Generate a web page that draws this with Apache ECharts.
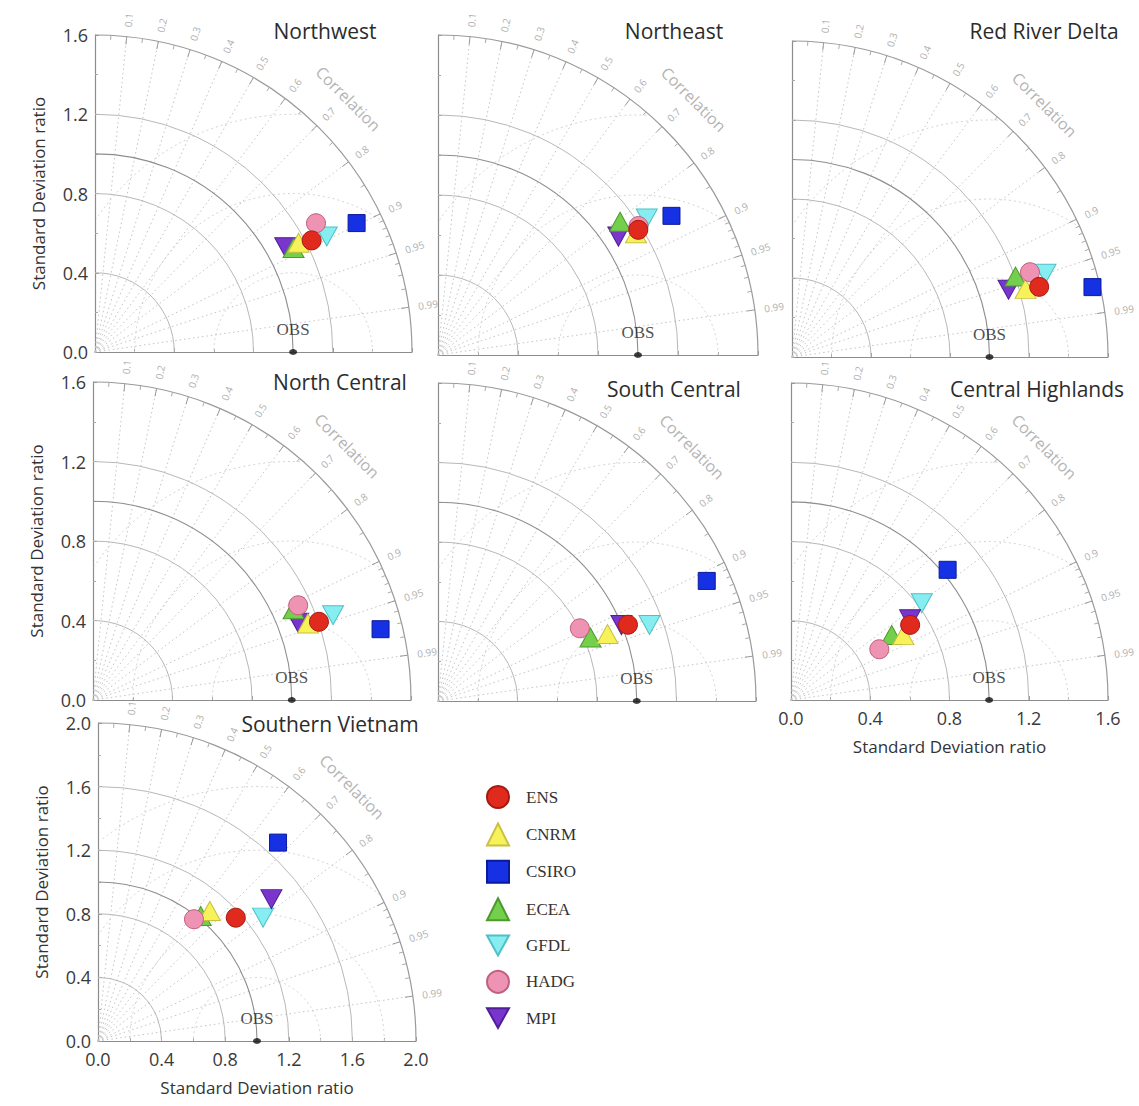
<!DOCTYPE html>
<html>
<head>
<meta charset="utf-8">
<script src="https://cdn.jsdelivr.net/npm/echarts@6/dist/echarts.min.js"></script>
<style>
  html, body { margin: 0; padding: 0; background: #ffffff; }
  #chart { width: 1139px; height: 1106px; }
</style>
</head>
<body>
<div id="chart"></div>
<script>
// Models, in legend order
const models = ['ENS', 'CNRM', 'CSIRO', 'ECEA', 'GFDL', 'HADG', 'MPI'];
const regions = ['Northwest', 'Northeast', 'Red River Delta', 'North Central',
                 'South Central', 'Central Highlands', 'Southern Vietnam'];

// Standard deviation ratio (model / observed) and correlation, columns follow `models`
const northwestStd   = [1.230, 1.166, 1.472, 1.131, 1.307, 1.291, 1.096];
const northwestCorr  = [0.889, 0.881, 0.897, 0.886, 0.895, 0.864, 0.876];
const northeastStd   = [1.181, 1.162, 1.359, 1.128, 1.247, 1.192, 1.079];
const northeastCorr  = [0.848, 0.852, 0.859, 0.807, 0.837, 0.841, 0.836];
const redRiverStd    = [1.301, 1.232, 1.562, 1.203, 1.351, 1.279, 1.148];
const redRiverCorr   = [0.962, 0.960, 0.974, 0.941, 0.950, 0.942, 0.955];
const northCentStd   = [1.203, 1.148, 1.490, 1.108, 1.281, 1.137, 1.103];
const northCentCorr  = [0.945, 0.942, 0.971, 0.911, 0.943, 0.908, 0.936];
const southCentStd   = [1.030, 0.917, 1.481, 0.831, 1.131, 0.802, 0.999];
const southCentCorr  = [0.928, 0.930, 0.913, 0.923, 0.941, 0.890, 0.924];
const highlandsStd   = [0.711, 0.655, 1.028, 0.605, 0.821, 0.514, 0.726];
const highlandsCorr  = [0.846, 0.866, 0.769, 0.840, 0.804, 0.867, 0.828];
const southernStd    = [1.163, 1.079, 1.685, 1.017, 1.296, 0.975, 1.409];
const southernCorr   = [0.745, 0.652, 0.672, 0.635, 0.801, 0.619, 0.774];

// Observed reference: standard deviation ratio 1, perfect correlation
const obsStd = 1.0;

// Correlation grid lines, labels and arc ticks
const corrLines = [0.1, 0.2, 0.3, 0.4, 0.5, 0.6, 0.7, 0.8, 0.9, 0.95, 0.99];
const corrMinor = [0.05, 0.15, 0.25, 0.35, 0.45, 0.55, 0.65, 0.75, 0.85,
                   0.91, 0.92, 0.93, 0.94, 0.96, 0.97, 0.98];

const regionStd  = [northwestStd, northeastStd, redRiverStd, northCentStd, southCentStd, highlandsStd, southernStd];
const regionCorr = [northwestCorr, northeastCorr, redRiverCorr, northCentCorr, southCentCorr, highlandsCorr, southernCorr];

// Panel placement: origin pixel, radius in px, axis max, which axes carry labels
const panels = [
  { ox: 95,  oy: 352,  R: 317, max: 1.6, yLab: true,  xLab: false, title: [325, 31] },
  { ox: 438, oy: 355,  R: 320, max: 1.6, yLab: false, xLab: false, title: [674, 31] },
  { ox: 792, oy: 357,  R: 316, max: 1.6, yLab: false, xLab: false, title: [1044, 31] },
  { ox: 93,  oy: 700,  R: 318, max: 1.6, yLab: true,  xLab: false, title: [340, 382] },
  { ox: 438, oy: 701,  R: 318, max: 1.6, yLab: false, xLab: false, title: [674, 389] },
  { ox: 791, oy: 700,  R: 317, max: 1.6, yLab: false, xLab: true,  title: [1037, 389] },
  { ox: 98,  oy: 1041, R: 318, max: 2.0, yLab: true,  xLab: true,  title: [330, 724] }
];

const markerStyles = {
  ENS:   { symbol: 'circle',   size: 19,       color: '#e02a1e', border: '#a8180f' },
  CNRM:  { symbol: 'triangle', size: [21, 19], color: '#f7f25a', border: '#c9c040' },
  CSIRO: { symbol: 'rect',     size: 17,       color: '#1531e3', border: '#0b1a9c' },
  ECEA:  { symbol: 'triangle', size: [21, 19], color: '#74cf4c', border: '#4c9a2e' },
  GFDL:  { symbol: 'path://M0,0 L20,0 L10,18 Z', size: [21, 19], color: '#86eef0', border: '#4fbfc8' },
  HADG:  { symbol: 'circle',   size: 19,       color: '#ee93b3', border: '#c0607c' },
  MPI:   { symbol: 'path://M0,0 L20,0 L10,18 Z', size: [21, 19], color: '#7a35cc', border: '#4e1f98' }
};
// Drawing order so the ensemble sits on top
const drawOrder = ['CSIRO', 'GFDL', 'MPI', 'ECEA', 'CNRM', 'HADG', 'ENS'];

const sansFont = '"Open Sans", "Noto Sans", sans-serif';
const serifFont = '"Liberation Serif", "DejaVu Serif", serif';

// Polar grid of one Taylor diagram, drawn through the panel's axes
function taylorGrid(max) {
  const sdArcs = [];
  for (let s = 0.4; s < max - 1e-6; s += 0.4) sdArcs.push(+s.toFixed(1));
  const rmsArcs = sdArcs.slice();
  return function (params, api) {
    const P = (x, y) => api.coord([x, y]);
    const polar = (r, t) => P(r * Math.cos(t), r * Math.sin(t));
    const o = P(0, 0);
    const k = api.size([1, 0])[0];
    const ch = [];
    const arc = (r, stroke, width, dash) => ({
      type: 'arc',
      shape: { cx: o[0], cy: o[1], r: r * k, startAngle: -Math.PI / 2, endAngle: 0, clockwise: true },
      style: { stroke: stroke, fill: 'none', lineWidth: width, lineDash: dash || null }
    });
    // centred RMS difference circles around the reference point
    rmsArcs.forEach(g => {
      const pts = [];
      for (let i = 0; i <= 180; i++) {
        const a = Math.PI * i / 180;
        const x = obsStd + g * Math.cos(a), y = g * Math.sin(a);
        if (x >= 0 && x * x + y * y <= max * max) pts.push(P(x, y));
      }
      if (pts.length > 1) ch.push({ type: 'polyline', shape: { points: pts },
        style: { stroke: '#d4d4d4', fill: 'none', lineWidth: 1, lineDash: [2, 3] } });
    });
    // correlation rays
    corrLines.forEach(c => {
      const t = Math.acos(c);
      const e = polar(max, t);
      ch.push({ type: 'line', shape: { x1: o[0], y1: o[1], x2: e[0], y2: e[1] },
        style: { stroke: '#c4c4c4', lineWidth: 1, lineDash: [1.5, 3] } });
    });
    // standard deviation arcs
    sdArcs.forEach(s => ch.push(arc(s, '#b8b8b8', 1)));
    ch.push(arc(obsStd, '#8e8e8e', 1.1));
    ch.push(arc(max, '#9a9a9a', 1.2));
    // ticks on the outer arc
    corrLines.forEach(c => {
      const t = Math.acos(c);
      const a = polar(max, t), b = polar(max * 0.975, t);
      ch.push({ type: 'line', shape: { x1: a[0], y1: a[1], x2: b[0], y2: b[1] },
        style: { stroke: '#9a9a9a', lineWidth: 1 } });
    });
    corrMinor.forEach(c => {
      const t = Math.acos(c);
      const a = polar(max, t), b = polar(max * 0.986, t);
      ch.push({ type: 'line', shape: { x1: a[0], y1: a[1], x2: b[0], y2: b[1] },
        style: { stroke: '#aaaaaa', lineWidth: 1 } });
    });
    // correlation labels
    corrLines.forEach(c => {
      const t = Math.acos(c);
      const p = polar(max * 1.03, t);
      ch.push({ type: 'text', x: p[0], y: p[1], rotation: t,
        style: { text: String(c), fill: '#b0b0b0', font: '10px ' + sansFont,
                 align: 'left', verticalAlign: 'middle' } });
    });
    const cp = polar(max * 1.13, Math.PI / 4);
    ch.push({ type: 'text', x: cp[0], y: cp[1], rotation: -Math.PI / 4,
      style: { text: 'Correlation', fill: '#b4b4b4', font: '16px ' + sansFont,
               align: 'center', verticalAlign: 'middle' } });
    return { type: 'group', children: ch };
  };
}

const grid = [], xAxis = [], yAxis = [], series = [], graphic = [];

panels.forEach((p, i) => {
  grid.push({ left: p.ox, top: p.oy - p.R, width: p.R, height: p.R });
  const axisBase = {
    gridIndex: i, type: 'value', min: 0, max: p.max, interval: 0.4,
    splitLine: { show: false },
    axisLine: { show: true, lineStyle: { color: '#8c8c8c', width: 1.2 } },
    axisTick: { show: true, inside: true, length: 4, lineStyle: { color: '#999999' } },
    minorTick: { show: true, splitNumber: 2, length: 3, lineStyle: { color: '#aaaaaa' } },
    nameLocation: 'middle',
    nameTextStyle: { fontFamily: sansFont, fontSize: 17, color: '#333333' }
  };
  xAxis.push(Object.assign({}, axisBase, {
    axisLabel: { show: p.xLab, fontFamily: sansFont, fontSize: 18, color: '#3a3a3a', margin: 9,
                 formatter: v => v.toFixed(1) },
    name: p.xLab ? 'Standard Deviation ratio' : '', nameGap: 38
  }));
  yAxis.push(Object.assign({}, axisBase, {
    axisLabel: { show: p.yLab, fontFamily: sansFont, fontSize: 18, color: '#3a3a3a', margin: 7,
                 formatter: v => v.toFixed(1) },
    name: p.yLab ? 'Standard Deviation ratio' : '', nameGap: 48
  }));

  series.push({
    type: 'custom', xAxisIndex: i, yAxisIndex: i, silent: true, clip: false, z: 1,
    data: [[0, 0]], renderItem: taylorGrid(p.max)
  });

  series.push({
    name: 'OBS', type: 'scatter', xAxisIndex: i, yAxisIndex: i, z: 3, silent: true,
    symbol: 'circle', symbolSize: [8, 6], itemStyle: { color: '#111111' },
    data: [[obsStd, 0]],
    label: { show: true, formatter: 'OBS', position: 'top', distance: 11,
             fontFamily: serifFont, fontSize: 17, color: '#222222' }
  });

  drawOrder.forEach(m => {
    const j = models.indexOf(m);
    const s = regionStd[i][j], c = regionCorr[i][j];
    const st = markerStyles[m];
    series.push({
      name: m, type: 'scatter', xAxisIndex: i, yAxisIndex: i, z: 5,
      symbol: st.symbol, symbolSize: st.size,
      itemStyle: { color: st.color, borderColor: st.border, borderWidth: 1, opacity: 1 },
      data: [[s * c, s * Math.sqrt(1 - c * c)]]
    });
  });

  graphic.push({
    type: 'text', x: p.title[0], y: p.title[1],
    style: { text: regions[i], font: '21px ' + sansFont, fill: '#2c2c2c',
             align: 'center', verticalAlign: 'middle' }
  });
});

const chart = echarts.init(document.getElementById('chart'), null, { renderer: 'svg' });
chart.setOption({
  backgroundColor: '#ffffff',
  animation: false,
  grid: grid,
  xAxis: xAxis,
  yAxis: yAxis,
  series: series,
  graphic: graphic,
  legend: {
    data: models, orient: 'vertical', left: 481, top: 780,
    itemWidth: 22, itemHeight: 22, itemGap: 13.4,
    textStyle: { fontFamily: serifFont, fontSize: 17, color: '#333333', padding: [0, 0, 0, 12] }
  }
});
</script>
</body>
</html>
